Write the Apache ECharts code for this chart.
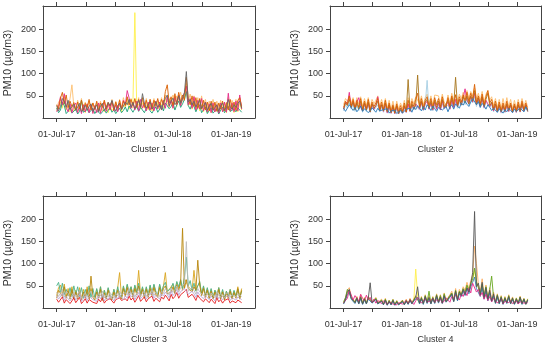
<!DOCTYPE html>
<html>
<head>
<meta charset="utf-8">
<script src="https://cdn.jsdelivr.net/npm/echarts@6/dist/echarts.min.js"></script>
<style>
html,body{margin:0;padding:0;background:#fff;}
#chart{width:550px;height:345px;}
</style>
</head>
<body>
<div id="chart"></div>
<script>
// ---------- DATA (6-day samples from 01-Jul-2017) ----------
const startYear = 2017, startMonth = 6, startDay = 1, stepDays = 6;
const panelTitles = ['Cluster 1', 'Cluster 2', 'Cluster 3', 'Cluster 4'];
const yTickValues = [50, 100, 150, 200];
const xLabelDates = [[2017,6,1],[2018,0,1],[2018,6,1],[2019,0,1]];
const xTickDates = [[2017,6,1],[2017,9,1],[2018,0,1],[2018,3,1],[2018,6,1],[2018,9,1],[2019,0,1]];

// Cluster 1
const c1_yellow = [16,28,36,22,38,18,26,14,28,16, 26,14,28,16,30,12,32,14,28,12, 26,14,30,14,32,14,30,12,32,16, 14,30,16,34,14,30,24,38,20,30, 36,238,22,32,20,34,22,30,18,30, 16,32,24,34,18,32,22,42,46,24, 40,22,44,26,46,28,42,50,66,28, 38,20,34,18,32,16,30,14,28,12, 26,12,30,14,28,11,30,14,26,12, 34,14,30,12,32,14,34,18];
const c1_peach = [20,36,42,26,48,30,22,44,75,26, 18,40,22,44,20,36,18,38,22,34, 18,36,20,38,16,40,22,36,18,42, 22,38,18,42,24,46,26,44,28,44, 22,42,28,46,24,40,26,44,20,42, 24,44,22,40,30,46,26,52,36,44, 34,52,36,50,40,58,38,56,78,38, 54,30,50,28,46,26,50,24,42,22, 38,20,42,22,38,18,40,22,34,20, 46,22,40,20,42,24,44,28];
const c1_green = [22,12,18,36,28,10,15,24,11,14, 20,9,15,40,13,10,19,12,16,22, 10,17,21,9,14,19,11,15,24,13, 18,10,14,22,12,17,25,14,27,20, 13,21,26,15,24,18,12,22,28,16, 11,19,25,13,20,28,16,34,38,21, 26,35,18,30,38,24,32,42,60,28, 20,33,26,14,24,30,12,19,25,10, 17,23,11,15,21,9,18,24,12,14, 26,15,11,20,14,23,27,13];
const c1_pink = [14,26,48,30,55,24,14,32,12,28, 34,12,28,10,30,14,32,12,30,10, 28,12,34,11,30,36,15,32,18,38, 16,30,14,34,20,40,30,62,45,22, 36,18,38,16,42,22,34,16,36,18, 34,16,38,20,36,18,40,22,48,26, 40,22,48,30,52,28,46,56,72,30, 44,22,48,18,40,20,44,16,36,14, 32,12,34,14,30,11,34,14,36,13, 56,16,34,14,38,16,52,20];
const c1_orange = [30,20,45,58,32,52,24,38,26,35, 18,36,20,40,17,33,24,42,18,34, 20,38,16,34,24,40,20,35,26,38, 18,36,22,40,20,38,28,48,30,42, 28,44,24,42,26,46,24,40,22,42, 20,40,28,44,24,42,30,60,75,34, 48,28,55,32,58,36,52,40,92,44, 30,50,26,46,22,44,20,40,18,36, 16,38,18,36,15,34,20,38,16,35, 18,42,20,36,17,40,46,24];
const c1_gray = [28,16,26,44,38,24,40,20,22,31, 17,25,33,14,20,29,18,26,32,15, 22,30,14,27,33,17,24,35,28,40, 25,15,28,33,19,27,36,30,42,24, 35,21,30,40,24,55,33,22,29,37, 20,26,37,24,31,19,35,44,52,28, 38,45,30,36,50,33,44,58,105,36, 42,30,38,25,33,40,22,28,35,18, 26,33,17,24,30,15,28,34,18,23, 42,26,19,30,24,33,38,22];

// Cluster 2
const c2_peach = [30,44,38,48,34,46,28,46,32,48, 26,44,28,46,24,42,32,40,50,26, 42,26,44,22,40,20,38,18,38,20, 34,22,40,20,46,28,44,32,48,44, 32,50,30,46,54,34,50,30,52,56, 50,32,54,36,30,52,34,56,38,54, 38,54,44,58,46,62,44,60,50,68, 44,56,40,60,36,54,62,40,48,28, 44,24,42,22,44,24,46,26,42,22, 40,22,42,24,44,26,40,24];
const c2_lblue = [16,30,22,34,20,30,15,28,17,32, 13,28,15,30,12,26,18,24,30,14, 24,13,26,11,22,10,20,9,20,9, 18,10,22,12,28,14,26,18,28,30, 18,34,16,30,85,20,32,16,30,18, 30,18,32,20,16,30,20,34,22,38, 22,36,28,40,30,44,28,40,34,48, 26,40,24,42,22,36,30,24,30,14, 26,12,24,11,24,12,26,14,26,12, 24,12,26,13,28,14,26,14];
const c2_pink = [20,36,30,58,24,38,20,36,46,24, 16,32,18,34,14,30,20,28,48,16, 30,15,32,12,28,11,24,10,26,10, 22,11,26,13,32,15,30,20,32,34, 20,36,18,32,38,20,34,18,36,20, 34,18,38,22,18,36,20,40,24,42, 26,42,30,46,66,40,32,48,36,56, 30,44,26,46,24,40,32,26,34,16, 30,14,28,13,28,14,30,15,30,13, 28,13,30,14,32,16,30,15];
const c2_brown = [20,34,28,42,24,36,18,34,20,38, 16,34,18,36,14,32,22,28,38,16, 30,16,34,14,30,12,26,11,28,10, 22,12,28,14,87,16,32,20,30,97, 22,38,20,36,42,22,38,20,40,24, 38,22,42,24,20,40,24,46,28,92, 26,42,30,48,34,50,32,50,38,62, 30,46,28,48,26,42,56,28,36,18, 32,15,30,14,28,15,32,17,30,14, 28,14,30,15,32,17,28,15];
const c2_orange = [24,38,32,50,28,42,22,40,24,44, 20,38,22,42,18,36,26,34,44,20, 36,20,40,16,34,14,30,12,32,14, 28,16,34,14,40,20,38,26,42,56, 26,44,24,40,48,28,44,24,46,30, 44,26,48,30,24,46,28,50,32,52, 30,48,36,52,40,58,38,56,44,76, 36,50,32,54,30,48,62,34,42,22, 38,18,36,16,34,18,38,20,34,16, 32,17,36,18,38,20,34,18];
const c2_blue = [22,15,19,30,26,17,24,14,20,27, 15,21,25,12,17,23,19,13,22,16, 12,19,15,21,11,16,13,18,10,14, 17,11,14,20,16,22,13,25,19,28, 22,16,26,18,30,24,17,27,21,15, 24,28,18,22,26,14,25,30,20,32, 27,22,34,29,38,31,26,36,44,40, 30,37,24,33,28,20,30,24,17,22, 18,13,21,16,11,19,14,22,17,12, 20,15,12,22,18,14,25,17];

// Cluster 3
const c3_gold = [28,46,52,30,54,26,44,24,48,22, 40,24,46,20,42,26,48,22,44,28, 22,42,26,48,20,40,24,44,28,22, 42,24,46,80,24,48,30,52,32,48, 28,50,34,85,30,46,26,46,28,50, 32,52,34,28,52,32,50,80,36,42, 40,54,36,58,44,62,40,66,58,48, 52,40,85,42,50,58,30,48,28,44, 24,42,22,40,26,46,24,40,20,38, 24,42,22,38,26,48,24,44];
const c3_green = [50,58,34,56,30,42,28,46,26,50, 30,48,26,46,22,42,28,50,24,44, 24,44,26,48,20,40,24,46,28,22, 42,26,48,30,24,50,32,54,34,48, 30,52,36,56,30,48,28,48,30,52, 34,54,38,30,54,36,50,58,38,42, 44,56,40,60,48,64,44,70,115,50, 62,40,56,38,50,60,32,50,28,46, 26,44,24,40,28,46,24,42,22,38, 26,42,24,40,26,42,24,38];
const c3_brown = [22,40,44,26,48,22,38,20,42,20, 36,20,40,18,36,22,42,20,72,24, 18,36,22,42,17,34,20,40,24,18, 36,22,40,26,20,44,26,46,28,42, 24,44,30,50,26,42,22,42,24,44, 28,46,30,24,46,28,44,50,32,36, 36,48,32,52,40,56,180,44,64,44, 46,36,48,40,108,52,28,44,24,40, 21,38,20,36,22,42,20,36,18,34, 22,38,20,35,22,44,20,40];
const c3_gray = [36,26,30,42,24,38,33,22,28,36, 26,31,40,22,27,35,24,32,38,25, 29,21,34,27,38,23,30,25,35,31, 22,33,27,38,30,26,35,29,44,31, 37,25,34,42,28,33,39,26,35,30, 41,28,36,31,26,39,33,44,37,29, 45,35,40,50,36,46,42,55,150,38, 34,46,40,31,44,36,40,28,35,32, 26,34,30,23,37,28,33,25,31,27, 35,24,30,33,25,32,28,26];
const c3_red = [20,13,17,25,11,19,22,10,16,23, 12,18,24,10,15,21,11,19,23,13, 16,10,20,14,23,11,17,13,21,18, 11,19,15,23,17,13,21,16,27,18, 23,13,20,28,15,19,25,14,21,17, 27,15,22,18,14,25,20,29,23,16, 31,21,26,35,22,30,28,37,42,24, 20,31,25,17,29,22,26,14,21,18, 12,20,16,10,23,14,19,11,17,13, 21,11,16,19,12,18,14,12];
const c3_lav = [28,20,24,33,17,26,29,16,22,30, 18,25,32,15,21,28,17,26,30,19, 23,15,27,21,30,16,24,19,28,25, 16,26,21,30,24,19,28,22,34,25, 30,19,27,35,21,26,32,20,28,24, 34,22,29,25,20,32,27,36,30,23, 38,28,33,42,29,37,35,44,48,31, 27,38,32,24,36,29,33,21,28,25, 19,27,23,16,30,21,26,18,24,20, 28,17,23,26,18,25,21,19];

// Cluster 4
const c4_yellow = [11,20,32,38,22,24,12,22,11,24, 10,21,10,23,26,12,9,21,10,8, 17,8,19,7,16,8,18,7,15,8, 7,16,8,17,9,19,10,18,88,27, 10,22,9,26,12,24,10,22,11,27, 12,25,11,29,14,12,26,32,15,38, 18,35,28,40,32,48,36,52,62,85, 54,48,28,52,22,42,18,38,16,32, 11,27,10,24,9,22,11,26,10,21, 9,20,10,23,9,19,8,18];
const c4_orange = [12,22,40,46,26,30,14,26,12,30, 11,24,12,26,30,14,10,24,12,9, 20,9,22,8,18,9,20,8,17,9, 8,18,9,20,10,22,12,21,28,32, 12,26,11,30,14,28,12,26,14,32, 15,30,13,34,17,14,30,38,18,44, 22,42,32,48,40,58,44,62,75,140, 100,54,36,66,28,52,22,46,18,36, 14,32,12,28,11,26,13,30,12,25, 10,23,12,27,11,22,10,21];
const c4_green = [14,24,42,40,24,28,13,24,11,26, 10,22,11,24,28,13,9,22,11,8, 18,8,20,7,17,8,19,7,16,8, 7,17,8,18,9,20,11,19,26,28, 11,24,10,28,13,38,11,24,13,30, 14,28,12,32,16,13,28,34,16,40, 20,38,30,44,36,52,40,56,66,90, 60,46,32,54,26,48,20,42,72,24, 13,30,11,26,10,24,12,28,11,23, 9,22,11,25,10,21,9,20];
const c4_blue = [9,18,30,36,20,22,10,20,9,21, 8,18,9,20,24,11,8,19,9,7, 15,7,17,6,14,7,16,6,13,7, 6,14,7,15,8,17,9,16,20,24, 9,20,8,23,10,21,9,20,10,24, 11,23,10,26,13,11,24,30,14,34, 16,32,26,38,28,44,32,48,58,70, 44,40,26,46,20,38,16,34,14,28, 10,24,9,22,8,20,10,23,9,19, 8,18,9,21,8,18,8,17];
const c4_pink = [12,9,22,40,30,18,28,24,15,31, 22,16,29,18,24,13,20,11,17,14, 10,16,12,8,14,18,9,13,7,12, 15,9,12,17,10,19,13,8,16,24, 18,11,15,21,13,9,17,22,12,19, 14,20,11,16,23,18,13,26,21,30, 24,18,32,26,38,28,44,34,56,60, 36,42,27,35,20,31,17,26,14,22, 18,11,16,21,9,15,19,12,17,10, 13,16,9,14,18,11,15,12];
const c4_gray = [10,20,36,42,22,26,12,22,10,24, 9,20,10,22,57,12,9,20,10,8, 16,8,18,7,15,8,17,7,14,8, 7,15,8,16,9,18,10,17,24,48, 11,22,10,26,12,24,10,22,12,28, 13,25,11,28,14,12,26,32,15,38, 18,36,28,42,30,46,36,54,80,218, 48,56,30,58,24,46,20,40,16,32, 12,28,11,24,10,22,12,26,10,22, 9,20,11,24,10,20,9,18];

const panelSeries = [
  [c1_yellow, c1_peach, c1_green, c1_pink, c1_orange, c1_gray],
  [c2_peach, c2_lblue, c2_pink, c2_brown, c2_orange, c2_blue],
  [c3_gold, c3_green, c3_brown, c3_gray, c3_red, c3_lav],
  [c4_yellow, c4_orange, c4_green, c4_blue, c4_pink, c4_gray]
];

// ---------- STYLE ----------
const panelColors = [
  ['#FFF04D', '#FDBF6F', '#1B9E77', '#E7298A', '#D95F02', '#666666'],
  ['#FDBF6F', '#A6CEE3', '#E7298A', '#A6761D', '#D95F02', '#2B7BBA'],
  ['#D9A520', '#4DB38A', '#B8860B', '#BDBDBD', '#E41A1C', '#BCA8D8'],
  ['#FFF04D', '#FDAE61', '#66A61E', '#377EB8', '#E7298A', '#555555']
];
const grids = [
  {left: 43, top: 6, width: 212, height: 112},
  {left: 330, top: 6, width: 211, height: 112},
  {left: 43, top: 196, width: 212, height: 112},
  {left: 330, top: 196, width: 211, height: 112}
];
const FONT = 'Liberation Sans, Arial, sans-serif';
const AX = '#444';
const TXT = '#333';
const MON = ['Jan','Feb','Mar','Apr','May','Jun','Jul','Aug','Sep','Oct','Nov','Dec'];
const ts = d => new Date(d[0], d[1], d[2]).getTime();
const xMin = ts([2017,4,19]), xMax = ts([2019,2,17]);
const yMin = 0, yMax = 253;
const fmtDate = v => { const d = new Date(v); return String(d.getDate()).padStart(2,'0') + '-' + MON[d.getMonth()] + '-' + String(d.getFullYear()).slice(2); };

const nPts = c1_gray.length;
const xDates = [];
for (let i = 0; i < nPts; i++) xDates.push(new Date(startYear, startMonth, startDay + stepDays * i).getTime());

const xAxes = [], yAxes = [], series = [], graphics = [];
grids.forEach((g, k) => {
  const common = {type: 'value', gridIndex: k, min: xMin, max: xMax, splitLine: {show: false},
    axisLine: {show: true, onZero: false, lineStyle: {color: AX, width: 1}},
    axisTick: {show: true, length: 4, lineStyle: {color: AX}, customValues: xTickDates.map(ts)}};
  xAxes.push(Object.assign({}, common, {position: 'bottom',
    axisLabel: {show: true, customValues: xLabelDates.map(ts), formatter: fmtDate, fontSize: 9, color: TXT, fontFamily: FONT, margin: 12}}));
  xAxes.push(Object.assign({}, common, {position: 'top', axisLabel: {show: false}}));
  const ycommon = {type: 'value', gridIndex: k, min: yMin, max: yMax, splitLine: {show: false},
    axisLine: {show: true, onZero: false, lineStyle: {color: AX, width: 1}},
    axisTick: {show: true, length: 4, lineStyle: {color: AX}, customValues: yTickValues}};
  yAxes.push(Object.assign({}, ycommon, {position: 'left',
    axisLabel: {show: true, customValues: yTickValues, fontSize: 9, color: TXT, fontFamily: FONT, margin: 7}}));
  yAxes.push(Object.assign({}, ycommon, {position: 'right', axisLabel: {show: false}}));

  panelSeries[k].forEach((vals, j) => {
    series.push({type: 'line', xAxisIndex: 2 * k, yAxisIndex: 2 * k, showSymbol: false, symbol: 'none',
      animation: false, silent: true,
      lineStyle: {width: 1, color: panelColors[k][j], opacity: 0.9},
      data: vals.map((v, i) => [xDates[i], v])});
  });

  const cx = g.left + g.width / 2, cy = g.top + g.height / 2;
  graphics.push({type: 'text', x: cx, y: g.top + g.height + 32,
    style: {text: panelTitles[k], fill: TXT, font: '9px ' + FONT, align: 'center', verticalAlign: 'middle'}});
  graphics.push({type: 'text', x: g.left - 35, y: cy + 1, rotation: Math.PI / 2,
    style: {text: 'PM10 (µg/m3)', fill: TXT, font: '10.5px ' + FONT, align: 'center', verticalAlign: 'middle'}});
});

const chart = echarts.init(document.getElementById('chart'), null, {renderer: 'canvas'});
chart.setOption({
  animation: false,
  backgroundColor: '#fff',
  grid: grids.map(g => Object.assign({containLabel: false}, g)),
  xAxis: xAxes,
  yAxis: yAxes,
  series: series,
  graphic: graphics
});
</script>
</body>
</html>
